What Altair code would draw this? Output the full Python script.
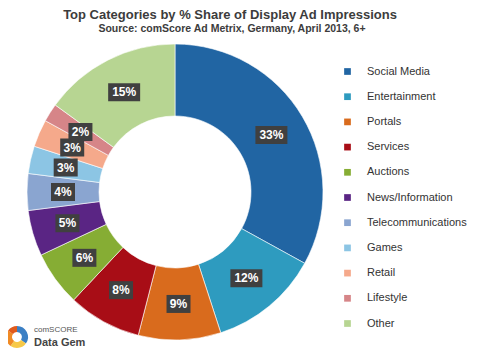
import altair as alt
import pandas as pd

categories = ["Social Media", "Entertainment", "Portals", "Services", "Auctions",
              "News/Information", "Telecommunications", "Games", "Retail", "Lifestyle", "Other"]
shares = [33, 12, 9, 8, 6, 5, 4, 3, 3, 2, 15]
colors = ["#2165a3", "#2e9bbf", "#d96b1d", "#a80d16", "#86ad34", "#5a2584",
          "#8aa5d0", "#8cc5e4", "#f5a98b", "#d68588", "#b7d592"]

df = pd.DataFrame({"category": categories, "value": shares, "order": list(range(len(categories)))})
df["label"] = [f"{v}%" for v in shares]

CX, CY = 167, 184
R_OUT, R_IN, R_LAB = 148, 76, 112
FONT = "Liberation Sans"

base = alt.Chart(df)

arc = base.mark_arc(outerRadius=R_OUT, innerRadius=R_IN, stroke="white", strokeWidth=0.6).encode(
    theta=alt.Theta("value:Q", stack=True),
    color=alt.Color("category:N", sort=categories,
                    scale=alt.Scale(domain=categories, range=colors),
                    legend=alt.Legend(title=None, orient="none", legendX=334, legendY=58,
                                      symbolType="square", symbolSize=45, symbolStrokeWidth=0,
                                      labelFont=FONT, labelFontSize=11, labelColor="#333333",
                                      labelOffset=14, rowPadding=13.2)),
    order=alt.Order("order:Q"),
    x=alt.value(CX), y=alt.value(CY),
)

pos = base.transform_window(
    cum="sum(value)", sort=[alt.SortField("order")], frame=[None, 0]
).transform_calculate(
    ang=f"(datum.cum - datum.value/2) / 100 * 2 * PI",
).transform_calculate(
    lx=f"{CX} + {R_LAB} * sin(datum.ang)",
    ly=f"{CY} - {R_LAB} * cos(datum.ang)",
    hw="(8 * length(datum.label) + 8) / 2",
).transform_calculate(
    x0="datum.lx - datum.hw", x1="datum.lx + datum.hw",
    y0="datum.ly - 9", y1="datum.ly + 9",
)

boxes = pos.mark_rect(color="#404040").encode(
    x=alt.X("x0:Q", scale=None), x2="x1:Q",
    y=alt.Y("y0:Q", scale=None), y2="y1:Q",
)
labels = pos.mark_text(font=FONT, fontWeight="bold", fontSize=12, color="white",
                       baseline="middle").encode(
    x=alt.X("lx:Q", scale=None), y=alt.Y("ly:Q", scale=None), text="label:N",
)

title_df = pd.DataFrame({"t": ["Top Categories by %  Share of Display Ad Impressions"]})
sub_df = pd.DataFrame({"t": ["Source: comScore Ad Metrix, Germany, April 2013, 6+"]})
title = alt.Chart(title_df).mark_text(font=FONT, fontWeight="bold", fontSize=13, color="#3c3c3c",
                                      baseline="middle").encode(
    x=alt.value(222), y=alt.value(7), text="t:N")
sub = alt.Chart(sub_df).mark_text(font=FONT, fontWeight="bold", fontSize=10.5, color="#3c3c3c",
                                  baseline="middle").encode(
    x=alt.value(224), y=alt.value(21), text="t:N")

logo_parts = ["a", "b", "c", "d"]
logo_vals = [35, 25, 25, 15]
logo_cols = ["#3b7fc4", "#f7c948", "#f08a24", "#e05a1c"]
logo_df = pd.DataFrame({"p": logo_parts, "v": logo_vals})
logo = alt.Chart(logo_df).mark_arc(outerRadius=11, innerRadius=5).encode(
    theta=alt.Theta("v:Q", stack=True),
    fill=alt.Fill("p:N", scale=alt.Scale(domain=logo_parts, range=logo_cols), legend=None),
    x=alt.value(9), y=alt.value(329),
)
brand_df = pd.DataFrame({"t": ["comSCORE"]})
gem_df = pd.DataFrame({"t": ["Data Gem"]})
brand = alt.Chart(brand_df).mark_text(font=FONT, fontSize=8, color="#555555", align="left",
                                      baseline="middle").encode(
    x=alt.value(26), y=alt.value(322), text="t:N")
gem = alt.Chart(gem_df).mark_text(font=FONT, fontWeight="bold", fontSize=11, color="#444444",
                                  align="left", baseline="middle").encode(
    x=alt.value(26), y=alt.value(335), text="t:N")

chart = alt.layer(arc, boxes, labels, title, sub, logo, brand, gem).resolve_scale(
    color="independent", fill="independent"
).properties(
    width=469, height=346, autosize=alt.AutoSizeParams(type="none"), padding=0,
).configure_view(stroke=None)

chart.save("out.html", embed_options={"renderer": "svg", "actions": False})
